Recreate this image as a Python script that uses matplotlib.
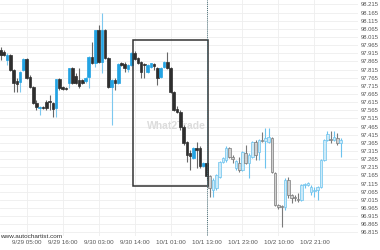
import numpy as np
import matplotlib
matplotlib.use("Agg")
import matplotlib.pyplot as plt
from matplotlib.patches import Rectangle

plt.rcParams['font.family'] = ['Liberation Sans', 'DejaVu Sans']

# hourly candles
opens = [97.935, 97.923, 97.874, 97.905, 97.813, 97.745, 97.739, 97.813, 97.880, 97.770,
         97.708, 97.610, 97.579, 97.585, 97.616, 97.622, 97.610, 97.579, 97.757, 97.708,
         97.705, 97.733, 97.825, 97.776, 97.751, 97.751, 97.745, 97.770, 97.892, 97.856,
         98.058, 97.862, 98.058, 97.886, 97.708, 97.751, 97.733, 97.856, 97.849, 97.819,
         97.843, 97.917, 97.886, 97.862, 97.849, 97.800, 97.831, 97.849, 97.825, 97.770,
         97.831, 97.862, 97.825, 97.677, 97.573, 97.555, 97.462, 97.370, 97.303, 97.272,
         97.333, 97.333, 97.223, 97.241, 97.161, 97.075, 97.088, 97.155, 97.247, 97.260,
         97.333, 97.278, 97.211, 97.241, 97.198, 97.303, 97.241, 97.278, 97.370, 97.309,
         97.383, 97.376, 97.370, 97.395, 97.180, 96.983, 96.977, 96.971, 97.137, 97.045,
         97.032, 97.020, 97.014, 97.106, 97.106, 97.063, 97.072, 97.075, 97.094, 97.260,
         97.383, 97.389, 97.383, 97.395, 97.364]
highs = [97.954, 97.935, 97.917, 97.911, 97.819, 97.763, 97.806, 97.886, 97.886, 97.782,
         97.714, 97.628, 97.591, 97.591, 97.628, 97.659, 97.616, 97.757, 97.763, 97.714,
         97.708, 97.825, 97.831, 97.794, 97.825, 97.757, 97.770, 97.899, 97.985, 98.058,
         98.089, 98.163, 98.064, 97.892, 97.757, 97.763, 97.856, 97.862, 97.862, 97.849,
         97.923, 97.929, 97.892, 97.868, 97.856, 97.849, 97.856, 97.856, 97.831, 97.831,
         97.868, 97.923, 97.831, 97.684, 97.591, 97.567, 97.475, 97.376, 97.321, 97.340,
         97.370, 97.346, 97.247, 97.247, 97.168, 97.149, 97.174, 97.254, 97.278, 97.346,
         97.340, 97.290, 97.260, 97.278, 97.315, 97.352, 97.303, 97.376, 97.383, 97.389,
         97.432, 97.456, 97.456, 97.401, 97.186, 96.989, 96.983, 97.149, 97.155, 97.051,
         97.045, 97.057, 97.112, 97.118, 97.125, 97.106, 97.094, 97.100, 97.266, 97.389,
         97.438, 97.438, 97.438, 97.426, 97.395]
lows = [97.874, 97.899, 97.843, 97.806, 97.677, 97.677, 97.677, 97.806, 97.757, 97.702,
        97.604, 97.567, 97.536, 97.573, 97.567, 97.567, 97.524, 97.524, 97.690, 97.690,
        97.690, 97.702, 97.727, 97.727, 97.702, 97.727, 97.733, 97.702, 97.849, 97.831,
        97.856, 97.794, 97.880, 97.702, 97.475, 97.690, 97.727, 97.837, 97.800, 97.800,
        97.837, 97.874, 97.849, 97.763, 97.763, 97.794, 97.825, 97.813, 97.720, 97.763,
        97.825, 97.819, 97.671, 97.561, 97.548, 97.444, 97.352, 97.247, 97.198, 97.266,
        97.211, 97.211, 97.217, 97.137, 97.032, 97.032, 97.075, 97.149, 97.241, 97.247,
        97.272, 97.241, 97.198, 97.186, 97.192, 97.235, 97.149, 97.272, 97.260, 97.260,
        97.370, 97.211, 97.364, 97.180, 96.977, 96.959, 96.848, 96.953, 97.026, 96.996,
        97.008, 97.002, 97.008, 97.088, 97.100, 97.045, 97.032, 97.014, 97.088, 97.254,
        97.376, 97.364, 97.376, 97.352, 97.278]
closes = [97.905, 97.905, 97.905, 97.813, 97.733, 97.727, 97.800, 97.880, 97.763, 97.708,
          97.610, 97.585, 97.585, 97.579, 97.579, 97.616, 97.573, 97.757, 97.702, 97.696,
          97.696, 97.825, 97.733, 97.733, 97.714, 97.733, 97.763, 97.892, 97.856, 98.058,
          97.862, 98.058, 97.886, 97.708, 97.751, 97.733, 97.849, 97.843, 97.825, 97.843,
          97.917, 97.880, 97.856, 97.800, 97.843, 97.843, 97.856, 97.837, 97.763, 97.825,
          97.862, 97.825, 97.677, 97.567, 97.555, 97.462, 97.364, 97.290, 97.284, 97.333,
          97.321, 97.223, 97.241, 97.161, 97.088, 97.137, 97.168, 97.247, 97.272, 97.333,
          97.278, 97.266, 97.254, 97.198, 97.309, 97.241, 97.290, 97.370, 97.290, 97.383,
          97.376, 97.395, 97.401, 97.186, 96.983, 96.971, 96.971, 97.137, 97.045, 97.026,
          97.026, 97.014, 97.106, 97.112, 97.118, 97.094, 97.075, 97.094, 97.260, 97.383,
          97.419, 97.383, 97.401, 97.364, 97.383]

xlabels = ["9/29 05:00", "9/29 16:00", "9/30 03:00", "9/30 14:00", "10/1 01:00",
           "10/1 13:00", "10/1 23:00", "10/2 10:00", "10/2 21:00"]
xlabel_idx = [8, 19, 30, 41, 52, 63, 74, 85, 96]

# pattern box (start idx, end idx, top, bottom) and the breakout candle
pat_start, pat_end = 40.4, 63.4
pat_top, pat_bottom = 97.997, 97.100
breakout_idx = 63

fig = plt.figure(figsize=(3.8, 2.5), dpi=100)
ax = fig.add_axes([0, 0.056, 358 / 380, 0.944])
ax.set_xlim(-0.153, 109.33)
ax.set_ylim(96.793, 98.2426)

yt = np.round(np.arange(96.815, 98.2151, 0.05), 3)
ax.set_yticks(yt)
ax.set_yticklabels(["%.3f" % v for v in yt])
ax.yaxis.tick_right()
ax.set_xticks(xlabel_idx)
ax.set_xticklabels(xlabels)
ax.tick_params(axis="y", length=0, labelsize=4.2, colors="#555555", pad=2)
ax.tick_params(axis="x", length=0, labelsize=4.5, colors="#555555", pad=3)
ax.grid(True, color="#eeeeee", linewidth=0.6)
ax.set_axisbelow(True)
for s in ax.spines.values():
    s.set_visible(False)

w = 0.8
for i in range(len(opens)):
    o, h, l, c = opens[i], highs[i], lows[i], closes[i]
    up = c >= o
    if i <= breakout_idx:
        face = "#23a3e3" if up else "#2e2e2e"
        edge = face
        wick = "#7cc8ef" if up else "#666666"
    else:
        face = "#cdeaf8" if up else "#d0d0d0"
        edge = "#6cc3ee" if up else "#7a7a7a"
        wick = edge
    ax.vlines(i, l, h, color=wick, linewidth=0.8, zorder=2)
    ax.add_patch(Rectangle((i - w / 2, min(o, c)), w, max(abs(c - o), 0.002),
                           facecolor=face, edgecolor=edge, linewidth=0.5, zorder=3))

ax.add_patch(Rectangle((pat_start, pat_bottom), pat_end - pat_start, pat_top - pat_bottom,
                       fill=False, edgecolor="#333333", linewidth=1.1, zorder=4))
ax.axvline(breakout_idx + 0.2, color="#4a6f78", linestyle=(0, (1, 1)), linewidth=0.7, zorder=5)

ax.text(0.492, 0.466, "What2Trade", transform=ax.transAxes, fontsize=7.5, fontweight="bold",
        color="#dcdcdc", ha="center", va="center", zorder=1)
fig.text(0.0, 0.056, "www.autochartist.com", fontsize=4.6, color="#333333",
         ha="left", va="center")

fig.savefig("out.png", dpi=100)
